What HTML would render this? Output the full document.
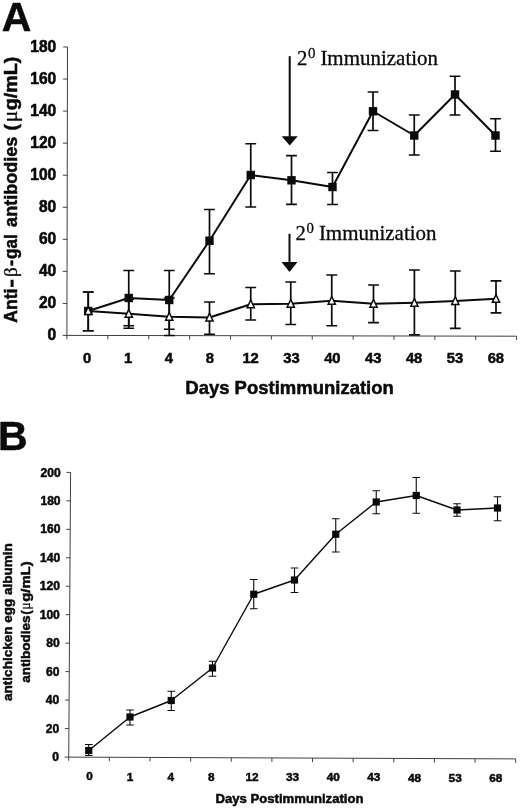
<!DOCTYPE html>
<html lang="en"><head><meta charset="utf-8"><title>Figure</title>
<style>html,body{margin:0;padding:0;background:#fff}svg{display:block;filter:blur(0.4px)}text{font-family:"Liberation Sans",Arial,sans-serif;font-weight:bold;fill:#0a0a0a;stroke:#0a0a0a;stroke-width:0.5px}.ser{font-family:"Liberation Serif","Times New Roman",serif;font-weight:normal;stroke-width:0.3px}.sym{font-weight:normal}</style></head><body>
<svg width="520" height="808" viewBox="0 0 520 808">
<rect width="520" height="808" fill="#fff"/>
<g id="panelA">
<text x="1.7" y="31.1" font-size="41">A</text>
<g stroke="#404040" stroke-width="1" fill="none">
<line x1="67.5" y1="47" x2="66.9" y2="339.2"/>
<line x1="62.7" y1="335.4" x2="516.6" y2="336.2"/>
<line x1="62.67" y1="303.44" x2="66.97" y2="303.44"/>
<line x1="62.74" y1="271.39" x2="67.04" y2="271.39"/>
<line x1="62.81" y1="239.33" x2="67.11" y2="239.33"/>
<line x1="62.87" y1="207.28" x2="67.17" y2="207.28"/>
<line x1="62.94" y1="175.22" x2="67.24" y2="175.22"/>
<line x1="63" y1="143.17" x2="67.3" y2="143.17"/>
<line x1="63.07" y1="111.11" x2="67.37" y2="111.11"/>
<line x1="63.13" y1="79.06" x2="67.43" y2="79.06"/>
<line x1="63.2" y1="47" x2="67.5" y2="47"/>
<line x1="107.87" y1="335.48" x2="107.87" y2="339.28"/>
<line x1="148.75" y1="335.55" x2="148.75" y2="339.35"/>
<line x1="189.62" y1="335.62" x2="189.62" y2="339.42"/>
<line x1="230.49" y1="335.7" x2="230.49" y2="339.5"/>
<line x1="271.36" y1="335.77" x2="271.36" y2="339.57"/>
<line x1="312.24" y1="335.84" x2="312.24" y2="339.64"/>
<line x1="353.11" y1="335.91" x2="353.11" y2="339.71"/>
<line x1="393.98" y1="335.98" x2="393.98" y2="339.78"/>
<line x1="434.85" y1="336.06" x2="434.85" y2="339.86"/>
<line x1="475.73" y1="336.13" x2="475.73" y2="339.93"/>
<line x1="516.6" y1="336.2" x2="516.6" y2="340"/>
</g>
<g font-size="14" text-anchor="end">
<text transform="translate(56.2 340.4) scale(1.11 1.17)">0</text>
<text transform="translate(56.2 308.34) scale(1.11 1.17)">20</text>
<text transform="translate(56.2 276.29) scale(1.11 1.17)">40</text>
<text transform="translate(56.2 244.23) scale(1.11 1.17)">60</text>
<text transform="translate(56.2 212.18) scale(1.11 1.17)">80</text>
<text transform="translate(56.2 180.12) scale(1.11 1.17)">100</text>
<text transform="translate(56.2 148.07) scale(1.11 1.17)">120</text>
<text transform="translate(56.2 116.01) scale(1.11 1.17)">140</text>
<text transform="translate(56.2 83.96) scale(1.11 1.17)">160</text>
<text transform="translate(56.2 51.9) scale(1.11 1.17)">180</text>
</g>
<g font-size="14.8" text-anchor="middle">
<text x="87.14" y="362.9">0</text>
<text x="128.01" y="362.9">1</text>
<text x="168.88" y="362.9">4</text>
<text x="209.75" y="362.9">8</text>
<text x="250.63" y="362.9">12</text>
<text x="291.5" y="362.9">33</text>
<text x="332.37" y="362.9">40</text>
<text x="373.25" y="362.9">43</text>
<text x="414.12" y="362.9">48</text>
<text x="454.99" y="362.9">53</text>
<text x="495.86" y="362.9">68</text>
</g>
<text x="185.3" y="394.1" font-size="18.4" textLength="208.5" lengthAdjust="spacingAndGlyphs">Days Postimmunization</text>
<g transform="translate(17.1 0) rotate(-90)" font-size="18.3">
<text x="-322.8" y="0" textLength="34.2" lengthAdjust="spacingAndGlyphs">Anti</text>
<text x="-286.9" y="0" textLength="7.3" lengthAdjust="spacingAndGlyphs" style="stroke-width:1.2px">–</text>
<text class="ser" x="-276.9" y="0" textLength="9.7" lengthAdjust="spacingAndGlyphs" font-size="18.5">β</text>
<text x="-265.9" y="0" textLength="6.1" lengthAdjust="spacingAndGlyphs">-</text>
<text x="-258.9" y="0" textLength="24.7" lengthAdjust="spacingAndGlyphs">gal</text>
<text x="-226.9" y="0" textLength="90.2" lengthAdjust="spacingAndGlyphs">antibodies</text>
<text x="-130.6" y="0" textLength="6.3" lengthAdjust="spacingAndGlyphs">(</text>
<text class="ser" x="-122.2" y="0" textLength="11.4" lengthAdjust="spacingAndGlyphs" font-size="20">μ</text>
<text x="-110.3" y="0" textLength="53.7" lengthAdjust="spacingAndGlyphs">g/mL)</text>
</g>
<g stroke="#0a0a0a" stroke-width="1.7" fill="none">
<path d="M88.25 292V330.75M82.85 292H93.65M82.85 330.75H93.65M128.75 270.5V325.75M123.35 270.5H134.15M123.35 325.75H134.15M169.25 270.5V329.25M163.85 270.5H174.65M163.85 329.25H174.65M209.5 209.5V273.75M204.1 209.5H214.9M204.1 273.75H214.9M250.75 143.75V207M245.35 143.75H256.15M245.35 207H256.15M291.5 155.6V204.4M286.1 155.6H296.9M286.1 204.4H296.9M332.5 172.5V204.5M327.1 172.5H337.9M327.1 204.5H337.9M373 92V130.5M367.6 92H378.4M367.6 130.5H378.4M414.25 115V155M408.85 115H419.65M408.85 155H419.65M455 76.25V115M449.6 76.25H460.4M449.6 115H460.4M495.5 118.75V151.25M490.1 118.75H500.9M490.1 151.25H500.9"/>
</g>
<g stroke="#0a0a0a" stroke-width="1.7" fill="none">
<path d="M88.25 292V330.75M82.85 292H93.65M82.85 330.75H93.65M128.75 299.25V328.25M123.35 299.25H134.15M123.35 328.25H134.15M169.25 298V335.5M163.85 298H174.65M163.85 335.5H174.65M209.5 302V334.25M204.1 302H214.9M204.1 334.25H214.9M250.75 287.5V320M245.35 287.5H256.15M245.35 320H256.15M290.75 282V324.5M285.35 282H296.15M285.35 324.5H296.15M331.75 275V325.75M326.35 275H337.15M326.35 325.75H337.15M373.5 285V322.7M368.1 285H378.9M368.1 322.7H378.9M414.4 270V334.8M409 270H419.8M409 334.8H419.8M455.3 271V328.3M449.9 271H460.7M449.9 328.3H460.7M496 280.9V312.9M490.6 280.9H501.4M490.6 312.9H501.4"/>
</g>
<polyline fill="none" stroke="#0a0a0a" stroke-width="2" stroke-linejoin="round" points="88.25,311 128.75,298 169.25,300 209.5,240.75 250.75,175 291.5,180.3 332.5,187 373,111.25 414.25,135.5 455,94.5 495.5,135.5"/>
<polyline fill="none" stroke="#0a0a0a" stroke-width="2" stroke-linejoin="round" points="88.25,311 128.75,313.75 169.25,316.75 209.5,317.5 250.75,304.25 290.75,303.75 331.75,300.75 373.5,303.75 414.4,302.8 455.3,301 496,298.8"/>
<g fill="#0a0a0a">
<rect x="84.05" y="306.8" width="8.4" height="8.4"/>
<rect x="124.55" y="293.8" width="8.4" height="8.4"/>
<rect x="165.05" y="295.8" width="8.4" height="8.4"/>
<rect x="205.3" y="236.55" width="8.4" height="8.4"/>
<rect x="246.55" y="170.8" width="8.4" height="8.4"/>
<rect x="287.3" y="176.1" width="8.4" height="8.4"/>
<rect x="328.3" y="182.8" width="8.4" height="8.4"/>
<rect x="368.8" y="107.05" width="8.4" height="8.4"/>
<rect x="410.05" y="131.3" width="8.4" height="8.4"/>
<rect x="450.8" y="90.3" width="8.4" height="8.4"/>
<rect x="491.3" y="131.3" width="8.4" height="8.4"/>
</g>
<g fill="#fff" stroke="#0a0a0a" stroke-width="1.5" stroke-linejoin="miter">
<path d="M88.25 306.8L91.85 314.4L84.65 314.4Z"/>
<path d="M128.75 309.55L132.35 317.15L125.15 317.15Z"/>
<path d="M169.25 312.55L172.85 320.15L165.65 320.15Z"/>
<path d="M209.5 313.3L213.1 320.9L205.9 320.9Z"/>
<path d="M250.75 300.05L254.35 307.65L247.15 307.65Z"/>
<path d="M290.75 299.55L294.35 307.15L287.15 307.15Z"/>
<path d="M331.75 296.55L335.35 304.15L328.15 304.15Z"/>
<path d="M373.5 299.55L377.1 307.15L369.9 307.15Z"/>
<path d="M414.4 298.6L418 306.2L410.8 306.2Z"/>
<path d="M455.3 296.8L458.9 304.4L451.7 304.4Z"/>
<path d="M496 294.6L499.6 302.2L492.4 302.2Z"/>
</g>
<line x1="289.7" y1="56.2" x2="289.7" y2="137.2" stroke="#0a0a0a" stroke-width="2"/>
<path d="M281.7 136.2L297.7 136.2L289.7 145.6Z" fill="#0a0a0a"/>
<line x1="289.5" y1="233.8" x2="289.5" y2="263" stroke="#0a0a0a" stroke-width="2"/>
<path d="M281.5 262L297.5 262L289.5 272Z" fill="#0a0a0a"/>
<text class="ser" x="296.9" y="64.9" font-size="20.8">2</text>
<text class="ser" x="307.9" y="58.3" font-size="14.8" style="stroke-width:.3px">0</text>
<text class="ser" x="320.4" y="64.9" font-size="20.4" textLength="117.6" lengthAdjust="spacingAndGlyphs">Immunization</text>
<text class="ser" x="295.4" y="239.7" font-size="20.8">2</text>
<text class="ser" x="306.4" y="233.1" font-size="14.8" style="stroke-width:.3px">0</text>
<text class="ser" x="318.9" y="239.7" font-size="20.4" textLength="117.6" lengthAdjust="spacingAndGlyphs">Immunization</text>
</g>
<g id="panelB">
<text x="-2.0" y="449.6" font-size="41">B</text>
<g stroke="#404040" stroke-width="1" fill="none">
<line x1="70.6" y1="472.2" x2="68.7" y2="760.8"/>
<line x1="64.6" y1="757.1" x2="515.7" y2="758.9"/>
<line x1="64.91" y1="728.54" x2="68.91" y2="728.54"/>
<line x1="65.1" y1="700.08" x2="69.1" y2="700.08"/>
<line x1="65.29" y1="671.62" x2="69.29" y2="671.62"/>
<line x1="65.47" y1="643.16" x2="69.47" y2="643.16"/>
<line x1="65.66" y1="614.7" x2="69.66" y2="614.7"/>
<line x1="65.85" y1="586.24" x2="69.85" y2="586.24"/>
<line x1="66.04" y1="557.78" x2="70.04" y2="557.78"/>
<line x1="66.22" y1="529.32" x2="70.22" y2="529.32"/>
<line x1="66.41" y1="500.86" x2="70.41" y2="500.86"/>
<line x1="66.6" y1="472.4" x2="70.6" y2="472.4"/>
<line x1="109.38" y1="757.28" x2="109.35" y2="761.28"/>
<line x1="150.01" y1="757.44" x2="149.98" y2="761.44"/>
<line x1="190.65" y1="757.6" x2="190.62" y2="761.6"/>
<line x1="231.28" y1="757.77" x2="231.25" y2="761.77"/>
<line x1="271.91" y1="757.93" x2="271.88" y2="761.93"/>
<line x1="312.54" y1="758.09" x2="312.51" y2="762.09"/>
<line x1="353.17" y1="758.25" x2="353.14" y2="762.25"/>
<line x1="393.8" y1="758.41" x2="393.77" y2="762.41"/>
<line x1="434.44" y1="758.58" x2="434.41" y2="762.58"/>
<line x1="475.07" y1="758.74" x2="475.04" y2="762.74"/>
<line x1="515.7" y1="758.9" x2="515.67" y2="762.9"/>
</g>
<g font-size="12.1" text-anchor="end">
<text x="58.93" y="761.1">0</text>
<text x="59.11" y="732.64">20</text>
<text x="59.3" y="704.18">40</text>
<text x="59.49" y="675.72">60</text>
<text x="59.67" y="647.26">80</text>
<text x="59.86" y="618.8">100</text>
<text x="60.05" y="590.34">120</text>
<text x="60.24" y="561.88">140</text>
<text x="60.42" y="533.42">160</text>
<text x="60.61" y="504.96">180</text>
<text x="60.8" y="476.5">200</text>
</g>
<g font-size="11.8" text-anchor="middle">
<text x="89.47" y="780.41">0</text>
<text x="130.1" y="780.54">1</text>
<text x="170.73" y="780.68">4</text>
<text x="211.36" y="780.82">8</text>
<text x="251.99" y="780.96">12</text>
<text x="292.62" y="781.1">33</text>
<text x="333.26" y="781.24">40</text>
<text x="373.89" y="781.38">43</text>
<text x="414.52" y="781.51">48</text>
<text x="455.15" y="781.65">53</text>
<text x="495.78" y="781.79">68</text>
</g>
<text x="215.5" y="803.3" font-size="13" textLength="148" lengthAdjust="spacingAndGlyphs">Days Postimmunization</text>
<g transform="translate(12.4 0) rotate(-90)" font-size="13.5">
<text x="-700.9" y="0" textLength="157.6" lengthAdjust="spacingAndGlyphs">antichicken egg albumin</text>
</g>
<g transform="translate(29.7 0) rotate(-90)" font-size="13.5">
<text x="-682.8" y="0" textLength="67.2" lengthAdjust="spacingAndGlyphs">antibodies</text>
<text x="-614.6" y="0" textLength="4" lengthAdjust="spacingAndGlyphs">(</text>
<text class="ser" x="-609.6" y="0" textLength="7" lengthAdjust="spacingAndGlyphs" font-size="14.5">μ</text>
<text x="-601.8" y="0" textLength="40.4" lengthAdjust="spacingAndGlyphs">g/mL)</text>
</g>
<g stroke="#0a0a0a" stroke-width="1.1" fill="none">
<path d="M88.75 744.5V755.5M84.95 744.5H92.55M84.95 755.5H92.55M130 710V725M126.2 710H133.8M126.2 725H133.8M171.25 691.25V710.5M167.45 691.25H175.05M167.45 710.5H175.05M212.5 661.25V676.25M208.7 661.25H216.3M208.7 676.25H216.3M253.75 579.5V608.75M249.95 579.5H257.55M249.95 608.75H257.55M294.5 568V592.5M290.7 568H298.3M290.7 592.5H298.3M335.75 518.75V552M331.95 518.75H339.55M331.95 552H339.55M376.25 490.75V513.75M372.45 490.75H380.05M372.45 513.75H380.05M416.25 477.5V513.25M412.45 477.5H420.05M412.45 513.25H420.05M457 503.75V516.25M453.2 503.75H460.8M453.2 516.25H460.8M497.5 496.75V520.75M493.7 496.75H501.3M493.7 520.75H501.3"/>
</g>
<polyline fill="none" stroke="#0a0a0a" stroke-width="1.4" stroke-linejoin="round" points="88.75,750.5 130,717 171.25,700.5 212.5,668 253.75,594.25 294.5,580 335.75,534.25 376.25,502 416.25,495.5 457,510 497.5,508"/>
<g fill="#0a0a0a">
<rect x="85.15" y="746.9" width="7.2" height="7.2"/>
<rect x="126.4" y="713.4" width="7.2" height="7.2"/>
<rect x="167.65" y="696.9" width="7.2" height="7.2"/>
<rect x="208.9" y="664.4" width="7.2" height="7.2"/>
<rect x="250.15" y="590.65" width="7.2" height="7.2"/>
<rect x="290.9" y="576.4" width="7.2" height="7.2"/>
<rect x="332.15" y="530.65" width="7.2" height="7.2"/>
<rect x="372.65" y="498.4" width="7.2" height="7.2"/>
<rect x="412.65" y="491.9" width="7.2" height="7.2"/>
<rect x="453.4" y="506.4" width="7.2" height="7.2"/>
<rect x="493.9" y="504.4" width="7.2" height="7.2"/>
</g>
</g>
</svg></body></html>
